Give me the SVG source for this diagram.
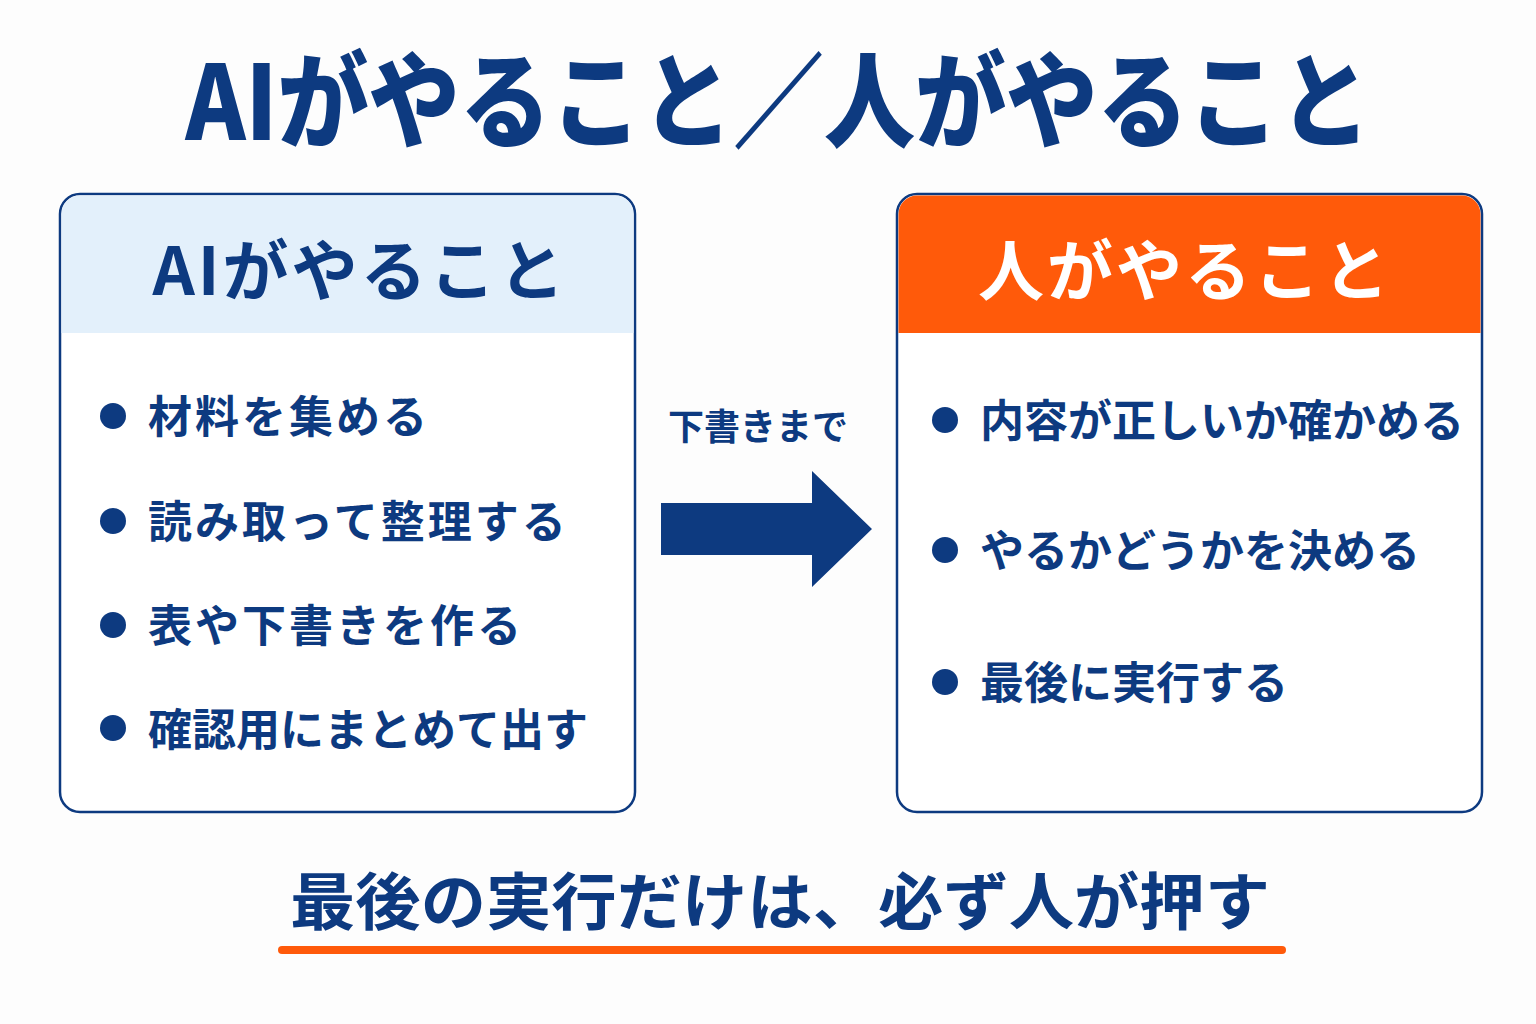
<svg xmlns="http://www.w3.org/2000/svg" width="1536" height="1024" viewBox="0 0 1536 1024">
<style>
text{font-family:"Noto Sans CJK JP","Noto Sans",sans-serif;font-weight:700;fill:#0d3a80}
.item{font-size:44px}
.l{letter-spacing:3px}
.dot{fill:#0d3a80}
.box{fill:#fff;stroke:#0d3a80;stroke-width:2.5}
</style>
<rect width="1536" height="1024" fill="#fdfdfd"/>
<text x="778" y="140" font-size="104" font-weight="900" text-anchor="middle" textLength="1185" lengthAdjust="spacingAndGlyphs" style="font-weight:900">AIがやること／人がやること</text>
<g id="ai">
<rect class="box" x="60" y="194" width="575" height="618" rx="20"/>
<path d="M80 195.5 H615 A18.5 18.5 0 0 1 633.5 214 V333 H61.5 V214 A18.5 18.5 0 0 1 80 195.5 Z" fill="#e3f0fb"/>
<text x="360" y="295" font-size="66" text-anchor="middle" letter-spacing="3">AIがやること</text>
<circle class="dot" cx="113" cy="416" r="13"/><text class="item l" x="148" y="433">材料を集める</text>
<circle class="dot" cx="113" cy="521" r="13"/><text class="item l" x="148" y="538">読み取って整理する</text>
<circle class="dot" cx="113" cy="625" r="13"/><text class="item l" x="148" y="642">表や下書きを作る</text>
<circle class="dot" cx="113" cy="728" r="13"/><text class="item" x="148" y="746">確認用にまとめて出す</text>
</g>
<g id="human">
<rect class="box" x="897" y="194" width="585" height="618" rx="20"/>
<path d="M917 195.5 H1462 A18.5 18.5 0 0 1 1480.5 214 V333 H898.5 V214 A18.5 18.5 0 0 1 917 195.5 Z" fill="#ff5a0a"/>
<text x="1185" y="295" font-size="66" text-anchor="middle" letter-spacing="3" style="fill:#fff">人がやること</text>
<circle class="dot" cx="945" cy="420" r="13"/><text class="item" x="980" y="437">内容が正しいか確かめる</text>
<circle class="dot" cx="945" cy="550" r="13"/><text class="item" x="980" y="567">やるかどうかを決める</text>
<circle class="dot" cx="945" cy="682" r="13"/><text class="item" x="980" y="699">最後に実行する</text>
</g>
<g id="connectors">
<text x="758" y="440" font-size="36" text-anchor="middle">下書きまで</text>
<polygon points="661,503 812,503 812,471 872,529 812,587 812,555 661,555" fill="#0d3a80"/>
</g>
<g id="footer">
<text x="780" y="925" font-size="62" text-anchor="middle" textLength="980" lengthAdjust="spacingAndGlyphs">最後の実行だけは、必ず人が押す</text>
<line x1="282" y1="950" x2="1282" y2="950" stroke="#ff5a0a" stroke-width="8" stroke-linecap="round"/>
</g>
</svg>
